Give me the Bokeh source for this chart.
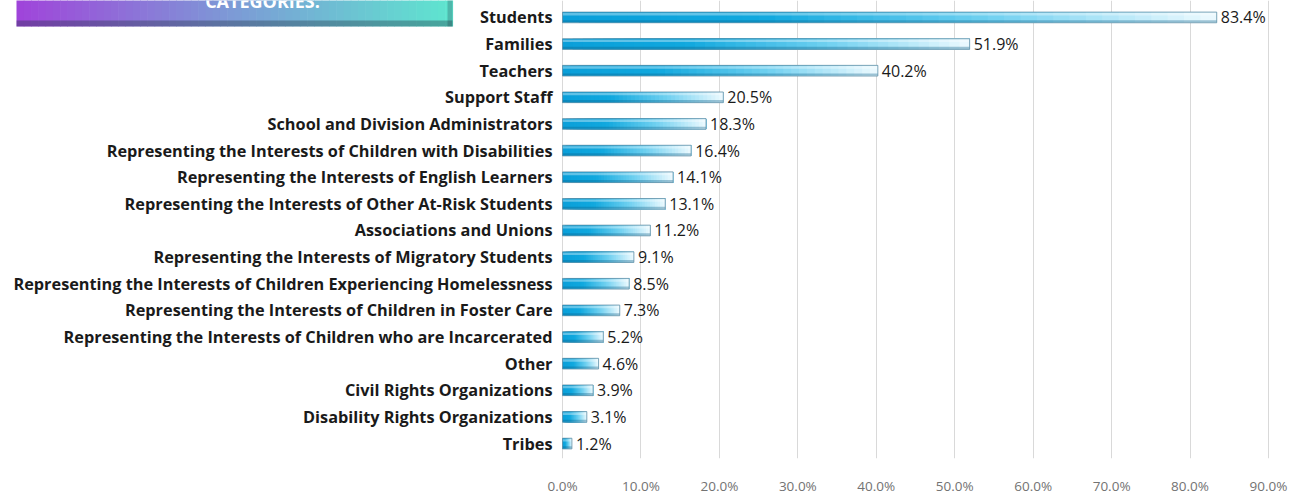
from bokeh.plotting import figure
from bokeh.models import ColumnDataSource, Range1d, FixedTicker, BoxAnnotation, Label
from bokeh.core.properties import value
from bokeh.embed import file_html
from bokeh.resources import INLINE

categories = [
    "Students",
    "Families",
    "Teachers",
    "Support Staff",
    "School and Division Administrators",
    "Representing the Interests of Children with Disabilities",
    "Representing the Interests of English Learners",
    "Representing the Interests of Other At-Risk Students",
    "Associations and Unions",
    "Representing the Interests of Migratory Students",
    "Representing the Interests of Children Experiencing Homelessness",
    "Representing the Interests of Children in Foster Care",
    "Representing the Interests of Children who are Incarcerated",
    "Other",
    "Civil Rights Organizations",
    "Disability Rights Organizations",
    "Tribes",
]
values = [83.4, 51.9, 40.2, 20.5, 18.3, 16.4, 14.1, 13.1, 11.2, 9.1, 8.5, 7.3, 5.2, 4.6, 3.9, 3.1, 1.2]
x_ticks = [0, 10, 20, 30, 40, 50, 60, 70, 80, 90]
x_tick_labels = ["0.0%", "10.0%", "20.0%", "30.0%", "40.0%", "50.0%", "60.0%", "70.0%", "80.0%", "90.0%"]
title_text = "CATEGORIES."

FONT = "Open Sans"
n = len(categories)
ypos = [n - 1 - i for i in range(n)]


def hex2rgb(h):
    h = h.lstrip("#")
    return tuple(int(h[i:i + 2], 16) for i in (0, 2, 4))


def rgb2hex(c):
    return "#%02x%02x%02x" % tuple(int(round(max(0, min(255, v)))) for v in c)


def mix(stops, t):
    for (p0, c0), (p1, c1) in zip(stops[:-1], stops[1:]):
        if t <= p1:
            u = 0 if p1 == p0 else (t - p0) / (p1 - p0)
            a, b = hex2rgb(c0), hex2rgb(c1)
            return rgb2hex([a[k] + (b[k] - a[k]) * u for k in range(3)])
    return stops[-1][1]


bar_stops = [(0.0, "#0a9fd9"), (0.30, "#10a8de"), (0.65, "#6fd0f0"), (1.0, "#eefaff")]

W, H = 1291, 497
frame_h = 460
row_px = (445.0 - 17.0) / (n - 1)
x0_px, px_per = 562.0, (1268.0 - 562.0) / 90.0
p = figure(
    width=W, height=H, output_backend="svg", toolbar_location=None,
    x_range=Range1d(-x0_px / px_per, (W - x0_px) / px_per),
    y_range=Range1d(-(frame_h - 445.0) / row_px, (n - 1) + 17.0 / row_px),
    min_border_left=0, min_border_right=0, min_border_top=0, min_border_bottom=H - frame_h,
)
p.outline_line_color = None
p.background_fill_color = "white"
p.border_fill_color = "white"

# axes / grid
p.yaxis.visible = False
p.ygrid.visible = False
p.xaxis.ticker = FixedTicker(ticks=x_ticks)
p.xgrid.ticker = FixedTicker(ticks=x_ticks)
p.xaxis.major_label_overrides = {t: l for t, l in zip(x_ticks, x_tick_labels)}
p.xaxis.axis_line_color = None
p.xaxis.major_tick_line_color = None
p.xaxis.minor_tick_line_color = None
p.xaxis.major_tick_out = 0
p.xaxis.major_tick_in = 0
p.xaxis.minor_tick_out = 0
p.xaxis.minor_tick_in = 0
p.xaxis.major_label_text_color = "#737373"
p.xaxis.major_label_text_font = FONT
p.xaxis.major_label_text_font_size = "13.5px"
p.xaxis.major_label_standoff = 18
p.xgrid.grid_line_color = "#d9d9d9"
p.xgrid.grid_line_width = 1

# gradient bars: overlapping slices (each from its start to the bar end)
nslices = 40
bh = 0.40
sl = dict(left=[], right=[], y=[], color=[])
for v, y in zip(values, ypos):
    for k in range(nslices):
        sl["left"].append(v * k / nslices)
        sl["right"].append(v)
        sl["y"].append(y)
        sl["color"].append(mix(bar_stops, (k + 0.5) / nslices))
p.hbar(y="y", left="left", right="right", height=bh, fill_color="color",
       line_color=None, source=ColumnDataSource(sl))

bars = ColumnDataSource(dict(y=ypos, v=values, cat=categories,
                             lab=["%.1f%%" % v for v in values],
                             ytop=[y + bh * 0.30 for y in ypos],
                             ybot=[y - bh * 0.36 for y in ypos]))
p.hbar(y="ytop", left=0, right="v", height=bh * 0.22, fill_color="white",
       fill_alpha=0.35, line_color=None, source=bars)
p.hbar(y="ybot", left=0, right="v", height=bh * 0.2, fill_color="#0b5f86",
       fill_alpha=0.35, line_color=None, source=bars)
p.hbar(y="y", left=0, right="v", height=bh, fill_alpha=0,
       line_color="#5f8ea6", line_alpha=0.8, line_width=1, source=bars)

# category labels
p.text(x=0, y="y", text="cat", source=bars, x_offset=-10, text_align="right",
       text_baseline="middle", text_font=value(FONT), text_font_style="bold",
       text_font_size="16.3px", text_color="#1a1a1a")
# value labels
p.text(x="v", y="y", text="lab", source=bars, x_offset=4, text_align="left",
       text_baseline="middle", text_font=value(FONT), text_font_size="16px",
       text_color="#1a1a1a")

# title banner (partly cut off at top)
box_stops = [(0.0, "#a044da"), (0.5, "#7c9bd6"), (1.0, "#5ee6cf")]
bl, br = 16, 452
bb = frame_h - 28
nb = 60
for k in range(nb):
    l = bl + (br - bl) * k / nb
    r = bl + (br - bl) * (k + 1) / nb + 0.6
    c = mix(box_stops, (k + 0.5) / nb)
    p.add_layout(BoxAnnotation(left=l, right=r, top=frame_h + 20, bottom=bb,
                               left_units="screen", right_units="screen",
                               top_units="screen", bottom_units="screen",
                               fill_color=c, fill_alpha=1, line_color=None, level="overlay"))
p.add_layout(BoxAnnotation(left=bl, right=br, top=bb + 6, bottom=bb,
                           left_units="screen", right_units="screen",
                           top_units="screen", bottom_units="screen",
                           fill_color="#1e3040", fill_alpha=0.35, line_color=None, level="overlay"))
p.add_layout(BoxAnnotation(left=br - 5, right=br, top=frame_h + 20, bottom=bb,
                           left_units="screen", right_units="screen",
                           top_units="screen", bottom_units="screen",
                           fill_color="#1e3040", fill_alpha=0.25, line_color=None, level="overlay"))
p.add_layout(Label(x=262, y=frame_h - 2, x_units="screen", y_units="screen", text=title_text,
                   text_align="center", text_baseline="alphabetic", text_color="white",
                   text_font=FONT, text_font_style="bold", text_font_size="18px",
                   level="overlay"))

open("out.html", "w").write(file_html(p, INLINE))
